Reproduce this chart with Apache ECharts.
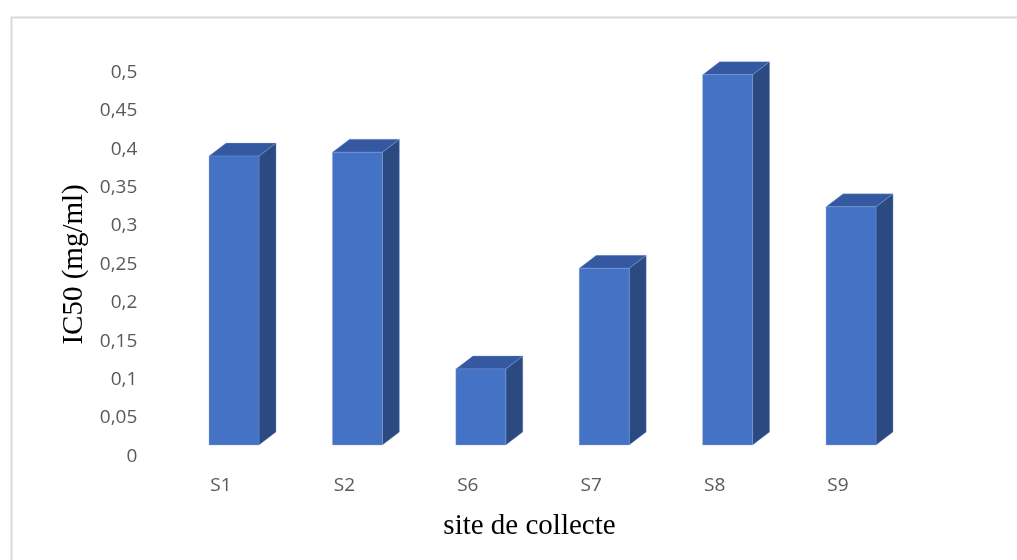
<!DOCTYPE html>
<html>
<head>
<meta charset="utf-8">
<script src="https://cdn.jsdelivr.net/npm/echarts@6/dist/echarts.min.js"></script>
<style>
html,body{margin:0;padding:0;background:#fff;}
#chart{width:1017px;height:560px;}
</style>
</head>
<body>
<div id="chart"></div>
<script>
const categories = ['S1', 'S2', 'S6', 'S7', 'S8', 'S9'];
const ic50 = [0.376, 0.381, 0.099, 0.230, 0.482, 0.310];
const yTicks = { min: 0, max: 0.5, interval: 0.05 };
const yTitle = 'IC50 (mg/ml)';
const xTitle = 'site de collecte';

const chart = echarts.init(document.getElementById('chart'), null, { renderer: 'canvas' });

function renderBar(params, api) {
  const i = api.value(0);
  const v = api.value(1);
  const base = api.coord([i, 0]);
  const top = api.coord([i, v]);
  const band = api.size([1, 0])[0];
  const x0 = base[0] - band * 0.097;
  const w = band * 0.405;
  const x1 = x0 + w;
  const dx = band * 0.138;
  const oy = -11.5, dy = -13;
  const yb = base[1] + oy;
  const yt = top[1] + oy;
  const edge = 'rgba(140,170,225,0.55)';
  return {
    type: 'group',
    children: [
      { type: 'polygon', shape: { points: [[x1, yb], [x1 + dx, yb + dy], [x1 + dx, yt + dy], [x1, yt]] },
        style: { fill: '#2B4A82', stroke: edge, lineWidth: 0.6 } },
      { type: 'polygon', shape: { points: [[x0, yt], [x0 + dx, yt + dy], [x1 + dx, yt + dy], [x1, yt]] },
        style: { fill: '#3459A0', stroke: edge, lineWidth: 0.6 } },
      { type: 'rect', shape: { x: x0, y: yt, width: w, height: yb - yt },
        style: { fill: '#4472C4', stroke: edge, lineWidth: 0.6 } }
    ]
  };
}

chart.setOption({
  animation: false,
  backgroundColor: '#fff',
  graphic: [{
    type: 'rect', left: 9, top: 15, silent: true,
    shape: { width: 1030, height: 600 },
    style: { fill: 'none', stroke: '#d9d9d9', lineWidth: 2 }
  }],
  grid: { left: 159.3, width: 740.4, top: 72.3, height: 384.2 },
  xAxis: {
    type: 'category',
    data: categories,
    axisLine: { show: false },
    axisTick: { show: false },
    axisLabel: { color: '#595959', fontFamily: 'Open Sans', fontSize: 19, margin: 20 },
    name: xTitle,
    nameLocation: 'middle',
    nameGap: 55,
    nameTextStyle: { color: '#000', fontFamily: 'Liberation Serif', fontSize: 29 }
  },
  yAxis: {
    type: 'value',
    min: yTicks.min, max: yTicks.max, interval: yTicks.interval,
    axisLine: { show: false },
    axisTick: { show: false },
    splitLine: { show: false },
    axisLabel: {
      color: '#595959', fontFamily: 'Open Sans', fontSize: 19, margin: 22,
      formatter: v => String(Math.round(v * 100) / 100).replace('.', ',')
    },
    name: yTitle,
    nameLocation: 'middle',
    nameRotate: 90,
    nameGap: 84,
    nameTextStyle: { color: '#000', fontFamily: 'Liberation Serif', fontSize: 29, verticalAlign: 'middle' }
  },
  series: [{
    type: 'custom',
    renderItem: renderBar,
    clip: false,
    encode: { x: 0, y: 1 },
    data: ic50.map((v, i) => [i, v])
  }]
});
</script>
</body>
</html>
